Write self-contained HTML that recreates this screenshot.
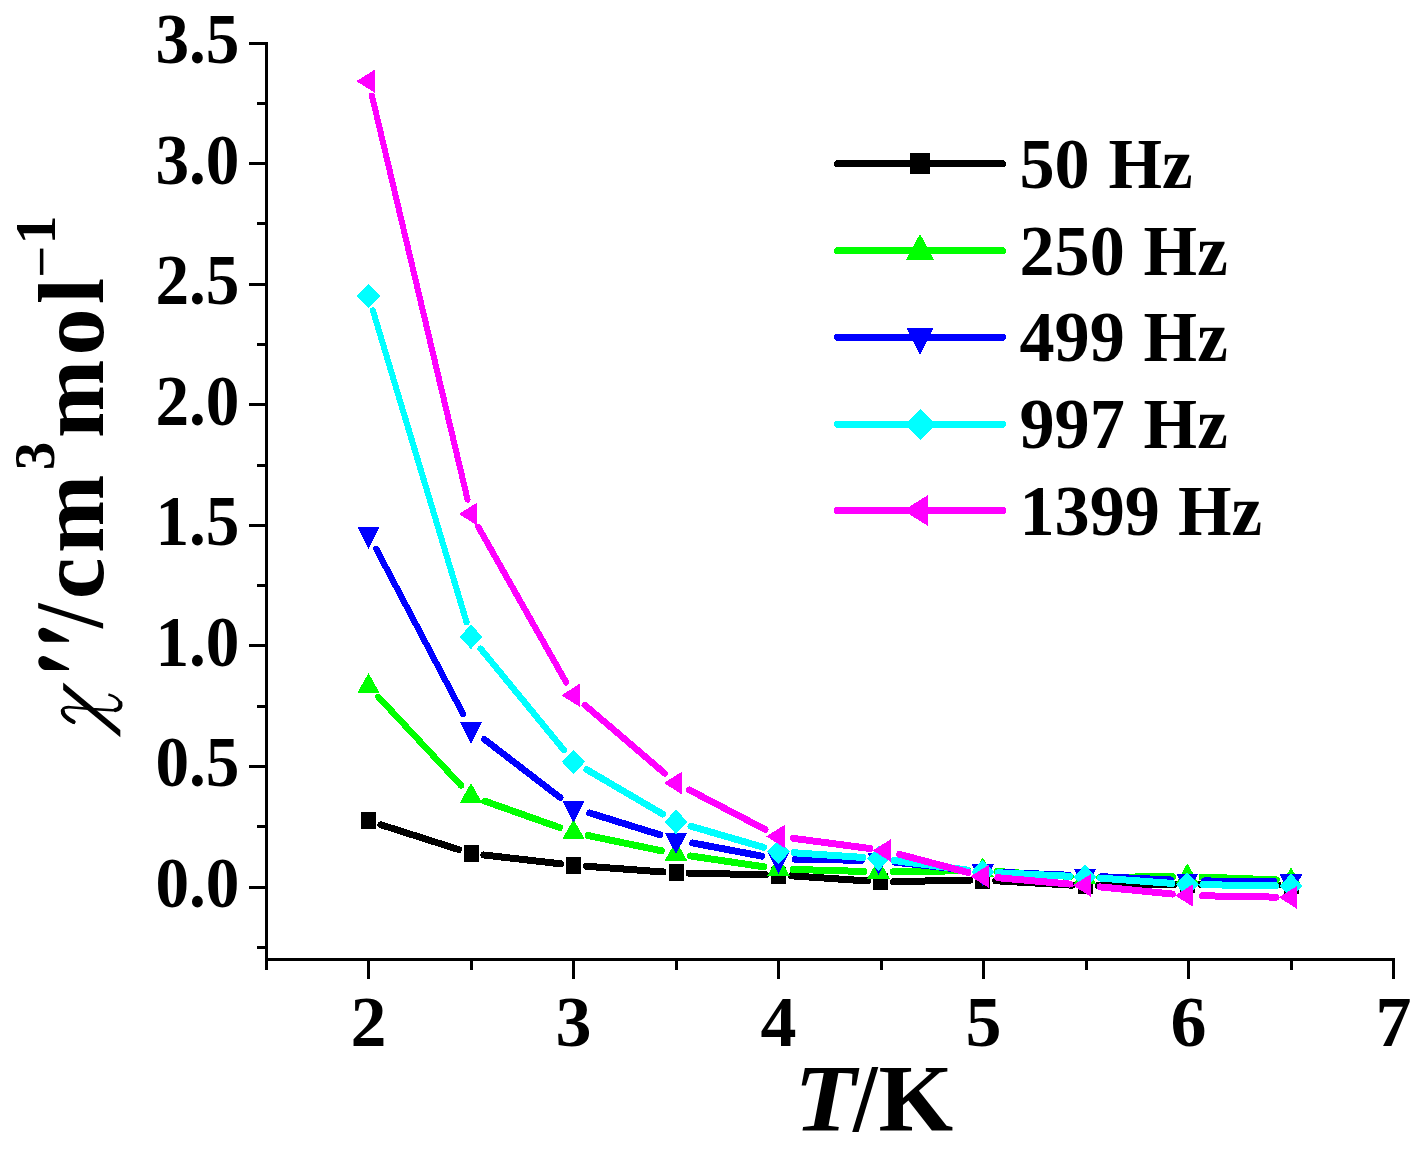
<!DOCTYPE html>
<html><head><meta charset="utf-8"><style>
html,body{margin:0;padding:0;background:#fff;}
body{width:1425px;height:1153px;overflow:hidden;}
svg{display:block;}
text{font-family:"Liberation Serif",serif;font-weight:bold;font-size:72px;fill:#000;}
</style></head><body>
<svg width="1425" height="1153" viewBox="0 0 1425 1153" shape-rendering="crispEdges">
<rect width="1425" height="1153" fill="#fff"/>
<g shape-rendering="crispEdges">
<path d="M380.84 824.74L458.66 849.56" stroke="#000000" stroke-width="6.91" stroke-linecap="round"/>
<path d="M483.91 854.99L560.59 863.81" stroke="#000000" stroke-width="6.99" stroke-linecap="round"/>
<path d="M586.46 866.26L663.04 871.94" stroke="#000000" stroke-width="6.99" stroke-linecap="round"/>
<path d="M689.00 873.17L765.50 874.73" stroke="#000000" stroke-width="7.00" stroke-linecap="round"/>
<path d="M791.47 875.86L867.53 880.94" stroke="#000000" stroke-width="7.00" stroke-linecap="round"/>
<path d="M893.50 881.57L969.70 880.23" stroke="#000000" stroke-width="7.00" stroke-linecap="round"/>
<path d="M995.68 880.75L1072.02 885.15" stroke="#000000" stroke-width="7.00" stroke-linecap="round"/>
<path d="M1098.00 885.66L1174.30 884.24" stroke="#000000" stroke-width="7.00" stroke-linecap="round"/>
<path d="M1200.30 884.13L1278.00 884.87" stroke="#000000" stroke-width="7.00" stroke-linecap="round"/>
<rect x="361.00" y="812.30" width="15.00" height="17.00" fill="#000000"/>
<rect x="463.50" y="845.00" width="15.00" height="17.00" fill="#000000"/>
<rect x="566.00" y="856.80" width="15.00" height="17.00" fill="#000000"/>
<rect x="668.50" y="864.40" width="15.00" height="17.00" fill="#000000"/>
<rect x="771.00" y="866.50" width="15.00" height="17.00" fill="#000000"/>
<rect x="873.00" y="873.30" width="15.00" height="17.00" fill="#000000"/>
<rect x="975.20" y="871.50" width="15.00" height="17.00" fill="#000000"/>
<rect x="1077.50" y="877.40" width="15.00" height="17.00" fill="#000000"/>
<rect x="1179.80" y="875.50" width="15.00" height="17.00" fill="#000000"/>
<rect x="1283.50" y="876.50" width="15.00" height="17.00" fill="#000000"/>
<path d="M378.41 696.93L461.09 785.57" stroke="#00ff00" stroke-width="6.47" stroke-linecap="round"/>
<path d="M484.90 801.12L559.60 827.58" stroke="#00ff00" stroke-width="6.89" stroke-linecap="round"/>
<path d="M587.97 835.51L661.53 850.79" stroke="#00ff00" stroke-width="6.96" stroke-linecap="round"/>
<path d="M690.63 855.97L763.87 866.83" stroke="#00ff00" stroke-width="6.98" stroke-linecap="round"/>
<path d="M793.29 869.43L863.71 871.47" stroke="#00ff00" stroke-width="7.00" stroke-linecap="round"/>
<path d="M893.30 871.70L967.90 870.70" stroke="#00ff00" stroke-width="7.00" stroke-linecap="round"/>
<path d="M997.46 871.51L1070.24 876.49" stroke="#00ff00" stroke-width="7.00" stroke-linecap="round"/>
<path d="M1099.80 877.36L1172.50 876.64" stroke="#00ff00" stroke-width="7.00" stroke-linecap="round"/>
<path d="M1202.09 877.07L1276.21 879.93" stroke="#00ff00" stroke-width="7.00" stroke-linecap="round"/>
<polygon points="368.50,673.00 357.30,693.00 379.70,693.00" fill="#00ff00"/>
<polygon points="471.00,782.90 459.80,802.90 482.20,802.90" fill="#00ff00"/>
<polygon points="573.50,819.20 562.30,839.20 584.70,839.20" fill="#00ff00"/>
<polygon points="676.00,840.50 664.80,860.50 687.20,860.50" fill="#00ff00"/>
<polygon points="778.50,855.70 767.30,875.70 789.70,875.70" fill="#00ff00"/>
<polygon points="878.50,858.60 867.30,878.60 889.70,878.60" fill="#00ff00"/>
<polygon points="982.70,857.20 971.50,877.20 993.90,877.20" fill="#00ff00"/>
<polygon points="1085.00,864.20 1073.80,884.20 1096.20,884.20" fill="#00ff00"/>
<polygon points="1187.30,863.20 1176.10,883.20 1198.50,883.20" fill="#00ff00"/>
<polygon points="1291.00,867.20 1279.80,887.20 1302.20,887.20" fill="#00ff00"/>
<path d="M376.23 548.90L463.27 714.30" stroke="#0000ff" stroke-width="6.22" stroke-linecap="round"/>
<path d="M484.32 739.26L560.18 797.64" stroke="#0000ff" stroke-width="6.63" stroke-linecap="round"/>
<path d="M589.69 812.94L659.81 834.76" stroke="#0000ff" stroke-width="6.91" stroke-linecap="round"/>
<path d="M692.68 842.97L761.82 856.13" stroke="#0000ff" stroke-width="6.97" stroke-linecap="round"/>
<path d="M795.50 859.49L861.50 860.21" stroke="#0000ff" stroke-width="7.00" stroke-linecap="round"/>
<path d="M895.40 862.23L965.80 869.87" stroke="#0000ff" stroke-width="6.99" stroke-linecap="round"/>
<path d="M999.68 872.40L1068.02 875.20" stroke="#0000ff" stroke-width="7.00" stroke-linecap="round"/>
<path d="M1101.98 876.71L1170.32 879.99" stroke="#0000ff" stroke-width="7.00" stroke-linecap="round"/>
<path d="M1204.30 880.95L1274.00 881.55" stroke="#0000ff" stroke-width="7.00" stroke-linecap="round"/>
<polygon points="368.50,548.80 357.40,526.90 379.60,526.90" fill="#0000ff"/>
<polygon points="471.00,743.60 459.90,721.70 482.10,721.70" fill="#0000ff"/>
<polygon points="573.50,822.50 562.40,800.60 584.60,800.60" fill="#0000ff"/>
<polygon points="676.00,854.40 664.90,832.50 687.10,832.50" fill="#0000ff"/>
<polygon points="778.50,873.90 767.40,852.00 789.60,852.00" fill="#0000ff"/>
<polygon points="878.50,875.00 867.40,853.10 889.60,853.10" fill="#0000ff"/>
<polygon points="982.70,886.30 971.60,864.40 993.80,864.40" fill="#0000ff"/>
<polygon points="1085.00,890.50 1073.90,868.60 1096.10,868.60" fill="#0000ff"/>
<polygon points="1187.30,895.40 1176.20,873.50 1198.40,873.50" fill="#0000ff"/>
<polygon points="1291.00,896.30 1279.90,874.40 1302.10,874.40" fill="#0000ff"/>
<path d="M372.86 310.40L466.64 622.40" stroke="#00ffff" stroke-width="6.08" stroke-linecap="round"/>
<path d="M480.71 648.73L563.79 749.97" stroke="#00ffff" stroke-width="6.40" stroke-linecap="round"/>
<path d="M586.85 769.63L662.65 814.07" stroke="#00ffff" stroke-width="6.74" stroke-linecap="round"/>
<path d="M690.94 826.24L763.56 847.36" stroke="#00ffff" stroke-width="6.92" stroke-linecap="round"/>
<path d="M794.06 852.76L862.94 857.44" stroke="#00ffff" stroke-width="7.00" stroke-linecap="round"/>
<path d="M893.96 860.50L967.24 870.00" stroke="#00ffff" stroke-width="6.98" stroke-linecap="round"/>
<path d="M998.28 872.76L1069.42 876.24" stroke="#00ffff" stroke-width="7.00" stroke-linecap="round"/>
<path d="M1100.56 878.14L1171.74 883.36" stroke="#00ffff" stroke-width="6.99" stroke-linecap="round"/>
<path d="M1202.90 884.73L1275.40 885.77" stroke="#00ffff" stroke-width="7.00" stroke-linecap="round"/>
<polygon points="368.50,283.70 380.10,295.90 368.50,308.10 356.90,295.90" fill="#00ffff"/>
<polygon points="471.00,624.70 482.60,636.90 471.00,649.10 459.40,636.90" fill="#00ffff"/>
<polygon points="573.50,749.60 585.10,761.80 573.50,774.00 561.90,761.80" fill="#00ffff"/>
<polygon points="676.00,809.70 687.60,821.90 676.00,834.10 664.40,821.90" fill="#00ffff"/>
<polygon points="778.50,839.50 790.10,851.70 778.50,863.90 766.90,851.70" fill="#00ffff"/>
<polygon points="878.50,846.30 890.10,858.50 878.50,870.70 866.90,858.50" fill="#00ffff"/>
<polygon points="982.70,859.80 994.30,872.00 982.70,884.20 971.10,872.00" fill="#00ffff"/>
<polygon points="1085.00,864.80 1096.60,877.00 1085.00,889.20 1073.40,877.00" fill="#00ffff"/>
<polygon points="1187.30,872.30 1198.90,884.50 1187.30,896.70 1175.70,884.50" fill="#00ffff"/>
<polygon points="1291.00,873.80 1302.60,886.00 1291.00,898.20 1279.40,886.00" fill="#00ffff"/>
<path d="M371.89 95.53L467.61 499.67" stroke="#ff00ff" stroke-width="6.05" stroke-linecap="round"/>
<path d="M478.29 526.90L566.21 682.40" stroke="#ff00ff" stroke-width="6.24" stroke-linecap="round"/>
<path d="M584.89 705.04L664.61 773.26" stroke="#ff00ff" stroke-width="6.58" stroke-linecap="round"/>
<path d="M689.39 789.97L765.11 829.43" stroke="#ff00ff" stroke-width="6.79" stroke-linecap="round"/>
<path d="M793.56 838.39L869.94 848.51" stroke="#ff00ff" stroke-width="6.98" stroke-linecap="round"/>
<path d="M899.66 854.39L968.04 872.51" stroke="#ff00ff" stroke-width="6.93" stroke-linecap="round"/>
<path d="M997.84 877.73L1069.86 884.07" stroke="#ff00ff" stroke-width="6.99" stroke-linecap="round"/>
<path d="M1100.12 886.89L1172.18 894.01" stroke="#ff00ff" stroke-width="6.99" stroke-linecap="round"/>
<path d="M1202.50 895.78L1275.80 897.12" stroke="#ff00ff" stroke-width="7.00" stroke-linecap="round"/>
<polygon points="356.30,81.20 374.60,69.70 374.60,92.70" fill="#ff00ff"/>
<polygon points="458.80,514.00 477.10,502.50 477.10,525.50" fill="#ff00ff"/>
<polygon points="561.30,695.30 579.60,683.80 579.60,706.80" fill="#ff00ff"/>
<polygon points="663.80,783.00 682.10,771.50 682.10,794.50" fill="#ff00ff"/>
<polygon points="766.30,836.40 784.60,824.90 784.60,847.90" fill="#ff00ff"/>
<polygon points="872.80,850.50 891.10,839.00 891.10,862.00" fill="#ff00ff"/>
<polygon points="970.50,876.40 988.80,864.90 988.80,887.90" fill="#ff00ff"/>
<polygon points="1072.80,885.40 1091.10,873.90 1091.10,896.90" fill="#ff00ff"/>
<polygon points="1175.10,895.50 1193.40,884.00 1193.40,907.00" fill="#ff00ff"/>
<polygon points="1278.80,897.40 1297.10,885.90 1297.10,908.90" fill="#ff00ff"/>
</g>
<rect x="265" y="42" width="3" height="928" fill="#000"/>
<rect x="265" y="958" width="1130" height="3" fill="#000"/>
<rect x="249" y="42" width="17" height="3" fill="#000"/>
<rect x="249" y="162" width="17" height="3" fill="#000"/>
<rect x="249" y="283" width="17" height="3" fill="#000"/>
<rect x="249" y="403" width="17" height="3" fill="#000"/>
<rect x="249" y="524" width="17" height="3" fill="#000"/>
<rect x="249" y="644" width="17" height="3" fill="#000"/>
<rect x="249" y="765" width="17" height="3" fill="#000"/>
<rect x="249" y="886" width="17" height="3" fill="#000"/>
<rect x="257" y="102" width="9" height="3" fill="#000"/>
<rect x="257" y="222" width="9" height="3" fill="#000"/>
<rect x="257" y="343" width="9" height="3" fill="#000"/>
<rect x="257" y="464" width="9" height="3" fill="#000"/>
<rect x="257" y="584" width="9" height="3" fill="#000"/>
<rect x="257" y="705" width="9" height="3" fill="#000"/>
<rect x="257" y="825" width="9" height="3" fill="#000"/>
<rect x="257" y="946" width="9" height="3" fill="#000"/>
<rect x="367" y="960" width="3" height="19" fill="#000"/>
<rect x="572" y="960" width="3" height="19" fill="#000"/>
<rect x="777" y="960" width="3" height="19" fill="#000"/>
<rect x="982" y="960" width="3" height="19" fill="#000"/>
<rect x="1187" y="960" width="3" height="19" fill="#000"/>
<rect x="1392" y="960" width="3" height="19" fill="#000"/>
<rect x="265" y="960" width="3" height="10" fill="#000"/>
<rect x="470" y="960" width="3" height="10" fill="#000"/>
<rect x="675" y="960" width="3" height="10" fill="#000"/>
<rect x="880" y="960" width="3" height="10" fill="#000"/>
<rect x="1085" y="960" width="3" height="10" fill="#000"/>
<rect x="1290" y="960" width="3" height="10" fill="#000"/>
<text transform="translate(239.5,907.00) scale(0.934,1)" text-anchor="end">0.0</text>
<text transform="translate(239.5,786.43) scale(0.934,1)" text-anchor="end">0.5</text>
<text transform="translate(239.5,665.86) scale(0.934,1)" text-anchor="end">1.0</text>
<text transform="translate(239.5,545.29) scale(0.934,1)" text-anchor="end">1.5</text>
<text transform="translate(239.5,424.72) scale(0.934,1)" text-anchor="end">2.0</text>
<text transform="translate(239.5,304.15) scale(0.934,1)" text-anchor="end">2.5</text>
<text transform="translate(239.5,183.58) scale(0.934,1)" text-anchor="end">3.0</text>
<text transform="translate(239.5,63.01) scale(0.934,1)" text-anchor="end">3.5</text>
<text x="368.50" y="1045.5" text-anchor="middle">2</text>
<text x="573.50" y="1045.5" text-anchor="middle">3</text>
<text x="778.50" y="1045.5" text-anchor="middle">4</text>
<text x="983.50" y="1045.5" text-anchor="middle">5</text>
<text x="1188.50" y="1045.5" text-anchor="middle">6</text>
<text x="1393.50" y="1045.5" text-anchor="middle">7</text>
<line x1="837.5" y1="163.50" x2="1002.5" y2="163.50" stroke="#000000" stroke-width="7" stroke-linecap="round"/>
<rect x="910" y="153.00" width="20" height="21" fill="#000000"/>
<text transform="translate(1019.5,187.80) scale(0.975,1)">50</text>
<text transform="translate(1108.42,187.80) scale(0.956,1)">Hz</text>
<line x1="837.5" y1="250.50" x2="1002.5" y2="250.50" stroke="#00ff00" stroke-width="7" stroke-linecap="round"/>
<polygon points="920,233.80 905.9,259.70 934.1,259.70" fill="#00ff00"/>
<text transform="translate(1019.5,274.55) scale(0.975,1)">250</text>
<text transform="translate(1143.62,274.55) scale(0.956,1)">Hz</text>
<line x1="837.5" y1="337.40" x2="1002.5" y2="337.40" stroke="#0000ff" stroke-width="7" stroke-linecap="round"/>
<polygon points="920,354.80 906.3,328.10 933.7,328.10" fill="#0000ff"/>
<text transform="translate(1019.5,361.30) scale(0.975,1)">499</text>
<text transform="translate(1143.62,361.30) scale(0.956,1)">Hz</text>
<line x1="837.5" y1="424.30" x2="1002.5" y2="424.30" stroke="#00ffff" stroke-width="7" stroke-linecap="round"/>
<polygon points="920.4,408.85 935.9,424.30 920.4,439.75 904.9,424.30" fill="#00ffff"/>
<text transform="translate(1019.5,448.05) scale(0.975,1)">997</text>
<text transform="translate(1143.62,448.05) scale(0.956,1)">Hz</text>
<line x1="837.5" y1="510.50" x2="1002.5" y2="510.50" stroke="#ff00ff" stroke-width="7" stroke-linecap="round"/>
<polygon points="903.4,510.50 928,494.95 928,526.05" fill="#ff00ff"/>
<text transform="translate(1019.5,534.80) scale(0.975,1)">1399</text>
<text transform="translate(1178.02,534.80) scale(0.956,1)">Hz</text>
<text transform="translate(794.3,1130.5) scale(1.055,1)" style="font-size:96px;font-style:italic">T</text>
<text x="878.5" y="1130.5" style="font-size:96px">K</text>
<polygon points="872,1067 878.3,1067 858.6,1132 852.2,1132" fill="#000" shape-rendering="auto"/>
<g transform="translate(102.5,737) rotate(-90)">
<text x="137.8" y="0" style="font-size:94px">c</text>
<text x="184.1" y="0" style="font-size:94px">m</text>
<text x="266.8" y="-48.3" style="font-size:57px">3</text>
<text x="298.9" y="0" style="font-size:94px">m</text>
<text x="381.4" y="0" style="font-size:94px">o</text>
<text x="433.1" y="0" style="font-size:94px">l</text>
<text x="492.6" y="-47.4" style="font-size:58px">1</text>
</g>
<g shape-rendering="auto">
<rect x="39.9" y="248.6" width="3.5" height="26.3" fill="#000"/>
<polygon points="38.2,602.8 38.2,608.2 103.1,628.7 103.1,623.2" fill="#000"/>
<path d="M69.1 640L45.6 628.3C43 627 39.5 628 38.5 631.5C37.5 635.5 40 640.5 45 641.8L69.1 641.8Z" fill="#000"/>
<path d="M69.1 668.2L45.6 656.5C43 655.2 39.5 656.2 38.5 659.7C37.5 663.7 40 668.7 45 670L69.1 670Z" fill="#000"/>
<polygon points="63.2,682.6 120.3,730 120.3,737.2 63.2,689.9" fill="#000"/>
<path d="M73.5 721.8C67 718.5 62.5 714.5 62.8 710.8M115.5 710C119.5 709 121 706.5 120.3 703" stroke="#000" stroke-width="4.2" fill="none" stroke-linecap="round"/>
<path d="M75 723C66 719 61.5 714.5 62.6 710C63.5 707.5 66 707 70 707.2L91.4 709L112.7 710.3C117.5 710 120.5 708.5 120.5 705C120 700 115 696 108.4 694.4" stroke="#000" stroke-width="2.6" fill="none"/>
</g>
</svg>
</body></html>
